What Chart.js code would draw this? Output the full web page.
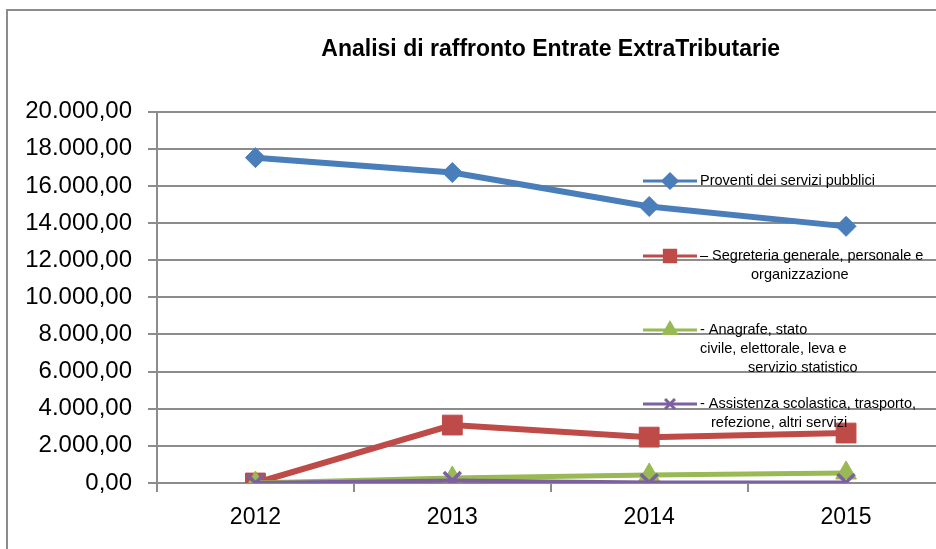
<!DOCTYPE html>
<html>
<head>
<meta charset="utf-8">
<script src="https://cdn.jsdelivr.net/npm/chart.js@4"></script>
<style>
  html, body { margin: 0; padding: 0; background: #fff; overflow: hidden; }
  #cornice { position: absolute; left: 6px; top: 9px; width: 1000px; height: 600px; border: 2px solid #8c8c8c; }
  #wrap { position: absolute; left: 0; top: 0; width: 960px; height: 549px; }
  #grafico { width: 960px; height: 549px; }
</style>
</head>
<body>
<div id="cornice"></div>
<div id="wrap"><canvas id="grafico" width="960" height="549"></canvas></div>
<script>
// dati
var anni = ['2012', '2013', '2014', '2015'];
var proventi = [17520, 16720, 14890, 13820];
var segreteria = [0, 3120, 2470, 2690];
var anagrafe = [0, 270, 430, 540];
var assistenza = [0, 130, 30, 30];
var tickValori = [0, 2000, 4000, 6000, 8000, 10000, 12000, 14000, 16000, 18000, 20000];

// etichette legenda, una riga per elemento
var legendaRighe = [
    ['Proventi dei servizi pubblici'],
    ['\u2013 Segreteria generale, personale e', 'organizzazione'],
    ['- Anagrafe, stato', 'civile, elettorale, leva e', 'servizio statistico'],
    ['- Assistenza scolastica, trasporto,', 'refezione, altri servizi']
];

function formatoIt(v) {
    var intero = Math.round(v).toString().replace(/\B(?=(\d{3})+(?!\d))/g, '.');
    return intero + ',00';
}

var FONT = "'Liberation Sans', Arial, sans-serif";

// legenda disegnata a mano, sovrapposta all'area del grafico
const legendaExcel = {
    id: 'legendaExcel',
    afterDatasetsDraw: function (chart) {
        var ctx = chart.ctx;
        var pos = [
            { y: 181, x: [700] },
            { y: 256, x: [700, 751] },
            { y: 330, x: [700, 700, 748] },
            { y: 404, x: [700, 711] }
        ];
        ctx.save();
        ctx.font = '14.5px ' + FONT;
        ctx.textBaseline = 'middle';
        for (var i = 0; i < chart.data.datasets.length; i++) {
            var ds = chart.data.datasets[i];
            var p = pos[i];
            ctx.strokeStyle = ds.borderColor;
            ctx.lineWidth = 3;
            ctx.beginPath();
            ctx.moveTo(643, p.y);
            ctx.lineTo(697, p.y);
            ctx.stroke();
            ctx.fillStyle = ds.backgroundColor;
            Chart.helpers.drawPoint(ctx, {
                pointStyle: ds.pointStyle,
                radius: ds.pointStyle === 'rect' ? 8 : 7,
                borderWidth: ds.pointStyle === 'crossRot' ? 2.5 : 1
            }, 670, p.y);
            ctx.fillStyle = '#000';
            var righe = legendaRighe[i];
            for (var r = 0; r < righe.length; r++) {
                ctx.fillText(righe[r], p.x[r], p.y + r * 19);
            }
        }
        ctx.restore();
    }
};

var ctx = document.getElementById('grafico');

new Chart(ctx, {
    type: 'line',
    data: {
        labels: anni,
        datasets: [{
            label: legendaRighe[0].join(' '),
            data: proventi,
            borderColor: '#4a7ebb',
            backgroundColor: '#4a7ebb',
            borderWidth: 6,
            pointStyle: 'rectRot',
            pointRadius: 10,
            pointBorderWidth: 1,
            order: 4
        }, {
            label: legendaRighe[1].join(' '),
            data: segreteria,
            borderColor: '#be4b48',
            backgroundColor: '#be4b48',
            borderWidth: 6,
            pointStyle: 'rect',
            pointRadius: 14,
            pointBorderWidth: 1,
            order: 3
        }, {
            label: legendaRighe[2].join(' '),
            data: anagrafe,
            borderColor: '#98b954',
            backgroundColor: '#98b954',
            borderWidth: 5,
            pointStyle: 'triangle',
            pointRadius: 12,
            pointBorderWidth: 1,
            order: 2
        }, {
            label: legendaRighe[3].join(' '),
            data: assistenza,
            borderColor: '#7d60a0',
            backgroundColor: '#7d60a0',
            borderWidth: 4,
            pointStyle: 'crossRot',
            pointRadius: 12,
            pointBorderWidth: 3.5,
            order: 1
        }]
    },
    plugins: [legendaExcel],
    options: {
        responsive: false,
        animation: false,
        devicePixelRatio: 1,
        layout: { padding: { left: 0, right: 12, top: 0, bottom: 0 } },
        plugins: {
            legend: { display: false },
            tooltip: { enabled: false },
            title: {
                display: true,
                fullSize: false,
                text: 'Analisi di raffronto Entrate ExtraTributarie',
                color: '#000',
                font: { family: FONT, size: 23, weight: 'bold' },
                padding: { top: 36, bottom: 48 }
            }
        },
        scales: {
            x: {
                offset: true,
                afterFit: function (scale) { scale.height = 66; },
                grid: {
                    offset: true,
                    drawOnChartArea: false,
                    color: '#8c8c8c',
                    lineWidth: 2,
                    tickLength: 9
                },
                border: { color: '#8c8c8c', width: 2 },
                ticks: {
                    color: '#000',
                    padding: 12,
                    font: { family: FONT, size: 23 }
                }
            },
            y: {
                min: 0,
                max: 20000,
                afterFit: function (scale) { scale.width = 157; },
                afterBuildTicks: function (scale) {
                    scale.ticks = tickValori.map(function (v) { return { value: v }; });
                },
                grid: {
                    color: '#8c8c8c',
                    lineWidth: 2,
                    tickLength: 9
                },
                border: { color: '#8c8c8c', width: 2 },
                ticks: {
                    color: '#000',
                    padding: 16,
                    font: { family: FONT, size: 24 },
                    callback: function (v) { return formatoIt(v); }
                }
            }
        }
    }
});
</script>
</body>
</html>
